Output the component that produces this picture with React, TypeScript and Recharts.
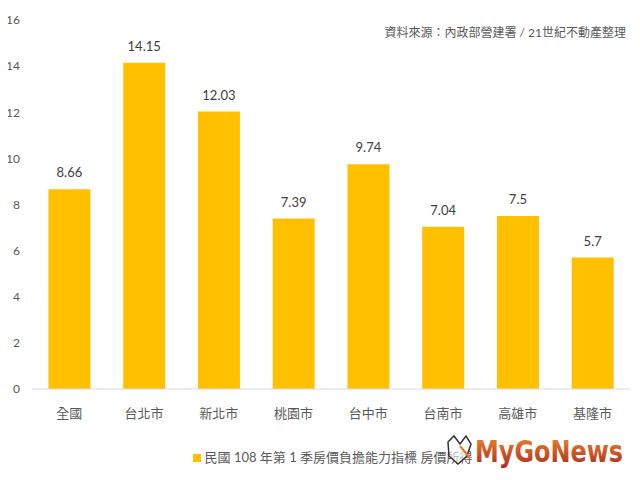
import React from 'react';
import { BarChart, Bar, XAxis, YAxis, LabelList, Legend } from 'recharts';

const CITIES = ['全國', '台北市', '新北市', '桃園市', '台中市', '台南市', '高雄市', '基隆市'];
const RATIOS = [8.66, 14.15, 12.03, 7.39, 9.74, 7.04, 7.5, 5.7];
const Y_TICKS = [0, 2, 4, 6, 8, 10, 12, 14, 16];
const SERIES_NAME = '民國 108 年第 1 季房價負擔能力指標 房價所得比';
const SOURCE = '資料來源：內政部營建署 / 21世紀不動產整理';

const BAR_COLOR = '#FFC000';
const FONT = "Lato, 'Noto Sans CJK TC', sans-serif";

const data = CITIES.map((city, i) => ({ city, ratio: RATIOS[i] }));

const LegendContent = () => (
    <div style={{ paddingLeft: 48, paddingTop: 18, textAlign: 'center', fontSize: 13, color: '#595959', fontFamily: FONT, whiteSpace: 'nowrap' }}>
        <span style={{ display: 'inline-block', width: 8, height: 8, background: BAR_COLOR, marginRight: 4 }} />
        {SERIES_NAME}
    </div>
);

const Logo = () => (
    <svg width={190} height={40} style={{ position: 'absolute', left: 440, top: 432 }}>
        <defs>
            <linearGradient id="logoGrad" x1="0" y1="0" x2="0" y2="1">
                <stop offset="0%" stopColor="#F08A2E" />
                <stop offset="100%" stopColor="#A8281E" />
            </linearGradient>
        </defs>
        <rect x={32} y={0} width={158} height={40} fill="#fff" />
        {/* rough cat head */}
        <path d="M8 10 L14 4 L20 12 L26 4 L31 12 L27 24 L18 32 L9 24 Z" fill="rgba(255,255,255,0.6)" stroke="#333" strokeWidth={1.5} />
        <path d="M20 14 L30 26" stroke="#E8782A" strokeWidth={2} />
        <text x={35} y={30} fontSize={30} fontWeight={900} fontFamily="'DejaVu Sans', Roboto, sans-serif" fill="url(#logoGrad)" textLength={148} lengthAdjust="spacingAndGlyphs">
            MyGoNews
        </text>
    </svg>
);

export default function App() {
    return (
        <div style={{ position: 'relative', margin: -8, width: 640, height: 480, background: '#fff', fontFamily: FONT }}>
            <div style={{ position: 'absolute', left: 0, top: 0, width: 640, height: 480, borderTop: '2px solid #e2e2e2', borderLeft: '2px solid #e2e2e2', boxSizing: 'border-box' }} />
            <BarChart width={640} height={480} data={data} margin={{ top: 20, right: 10, bottom: 11, left: 0 }} barCategoryGap="22%">
                <XAxis
                    dataKey="city"
                    height={40}
                    axisLine={{ stroke: '#d9d9d9' }}
                    tickLine={false}
                    tickMargin={14}
                    tick={{ fill: '#595959', fontSize: 13, fontFamily: FONT }}
                />
                <YAxis
                    width={32}
                    domain={[0, 16]}
                    ticks={Y_TICKS}
                    axisLine={false}
                    tickLine={false}
                    tickSize={0}
                    tickMargin={12}
                    tick={{ fill: '#595959', fontSize: 12, fontFamily: FONT }}
                />
                <Legend verticalAlign="bottom" height={40} content={<LegendContent />} />
                <Bar dataKey="ratio" name={SERIES_NAME} fill={BAR_COLOR} isAnimationActive={false}>
                    <LabelList dataKey="ratio" position="top" offset={12} fill="#404040" fontSize={13} fontFamily={FONT} />
                </Bar>
            </BarChart>
            <div style={{ position: 'absolute', right: 14, top: 23, fontSize: 12, color: '#595959', fontFamily: FONT, whiteSpace: 'nowrap' }}>
                {SOURCE}
            </div>
            <Logo />
        </div>
    );
}
